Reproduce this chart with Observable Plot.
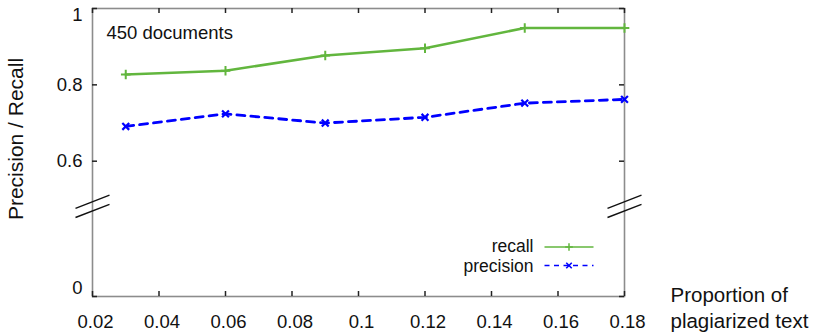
<!DOCTYPE html>
<html>
<head>
<meta charset="utf-8">
<script src="https://cdn.jsdelivr.net/npm/d3@7"></script>
<script src="https://cdn.jsdelivr.net/npm/@observablehq/plot@0.6"></script>
<style>
  body { margin: 0; background: #fff; }
  #chart svg { font-family: "Liberation Sans", Arial, Helvetica, sans-serif; color: #111; }
</style>
</head>
<body>
<div id="chart"></div>
<script>
// ---- data ----
const proportion = [0.03, 0.06, 0.09, 0.12, 0.15, 0.18];
const recall     = [0.827, 0.837, 0.877, 0.896, 0.949, 0.949];
const precision  = [0.691, 0.724, 0.700, 0.715, 0.752, 0.762];
const xTicks = [0.02, 0.04, 0.06, 0.08, 0.1, 0.12, 0.14, 0.16, 0.18];
const yTicks = [0, 0.6, 0.8, 1];
const yBreak = 0.4;
const seriesNames = ["recall", "precision"];
const annotation = "450 documents";
const yLabel = "Precision / Recall";
const xLabel = "Proportion of\nplagiarized text";

// ---- layout ----
const W = 817, H = 334;
const mL = 92, mR = 193, mT = 8, mB = 38;
const FW = W - mL - mR, FH = H - mT - mB;
const green = "#62b63e", blue = "#0000ff";

const rows = proportion.map((p, i) => ({p, recall: recall[i], precision: precision[i]}));

const breakSymbol = {
  draw(ctx) {
    ctx.moveTo(-17, 2); ctx.lineTo(17, -11.2);
    ctx.moveTo(-17, 11.2); ctx.lineTo(17, -2);
  }
};
const legendLine = { draw(ctx) { ctx.moveTo(-24.5, 0); ctx.lineTo(24.5, 0); } };

const fs = 18.5;
const lfs = 17.5;
const legY = [-50, -30.5];

const chart = Plot.plot({
  width: W, height: H,
  marginLeft: mL, marginRight: mR, marginTop: mT, marginBottom: mB,
  x: {domain: [0.02, 0.18]},
  y: {type: "linear", domain: [0, 0.6, 1], range: [H - mB, 160.7, mT]},
  marks: [
    Plot.frame({stroke: "#8c8c8c", strokeWidth: 1.6}),
    // inward ticks on all four sides
    Plot.tickX(xTicks, {x: d => d, insetTop: FH - 5, stroke: "#222", strokeWidth: 1.5}),
    Plot.tickX(xTicks, {x: d => d, insetBottom: FH - 5, stroke: "#222", strokeWidth: 1.5}),
    Plot.tickY(yTicks, {y: d => d, insetRight: FW - 5, stroke: "#222", strokeWidth: 1.5}),
    Plot.tickY(yTicks, {y: d => d, insetLeft: FW - 5, stroke: "#222", strokeWidth: 1.5}),
    // tick labels
    Plot.axisX(xTicks, {tickSize: 0, tickPadding: 18, fontSize: fs, dx: 3, label: null, tickFormat: d => String(d)}),
    Plot.axisY(yTicks.filter(d => d > 0 && d < 1), {tickSize: 0, tickPadding: 10, fontSize: fs, label: null, tickFormat: d => String(d)}),
    Plot.axisY([1], {tickSize: 0, tickPadding: 10, fontSize: fs, label: null, dy: 6.5, tickFormat: d => String(d)}),
    Plot.axisY([0], {tickSize: 0, tickPadding: 10, fontSize: fs, label: null, dy: -8.5, tickFormat: d => String(d)}),
    // axis break marks
    Plot.dot([xTicks[0], xTicks[xTicks.length - 1]], {x: d => d, y: () => yBreak, symbol: breakSymbol, r: 5, fill: "none", stroke: "#111", strokeWidth: 1.4}),
    // series
    Plot.line(rows, {x: "p", y: "recall", stroke: green, strokeWidth: 2.6}),
    Plot.dot(rows, {x: "p", y: "recall", symbol: "plus", r: 3.2, stroke: green, strokeWidth: 2}),
    Plot.line(rows, {x: "p", y: "precision", stroke: blue, strokeWidth: 2.8, strokeDasharray: "8,6"}),
    Plot.dot(rows, {x: "p", y: "precision", symbol: "times", r: 3.2, stroke: blue, strokeWidth: 2.2}),
    // annotation
    Plot.text([annotation], {text: d => d, frameAnchor: "top-left", dx: 14, dy: 25, textAnchor: "start", lineAnchor: "middle", fontSize: fs}),
    // axis titles
    Plot.text([yLabel], {text: d => d, frameAnchor: "left", dx: -76.5, dy: -13.5, rotate: -90, textAnchor: "middle", lineAnchor: "middle", fontSize: 21}),
    Plot.text([xLabel], {text: d => d, frameAnchor: "bottom-right", dx: 46, dy: -13, textAnchor: "start", lineAnchor: "top", lineHeight: 1.27, fontSize: 20.5}),
    // legend
    Plot.text([seriesNames[0]], {text: d => d, frameAnchor: "bottom-right", dx: -91, dy: legY[0], textAnchor: "end", lineAnchor: "middle", fontSize: lfs}),
    Plot.text([seriesNames[1]], {text: d => d, frameAnchor: "bottom-right", dx: -91, dy: legY[1], textAnchor: "end", lineAnchor: "middle", fontSize: lfs}),
    Plot.dot([seriesNames[0]], {frameAnchor: "bottom-right", dx: -55.5, dy: legY[0] + 0.5, symbol: legendLine, r: 5, fill: "none", stroke: green, strokeWidth: 1.5}),
    Plot.dot([seriesNames[0]], {frameAnchor: "bottom-right", dx: -55.5, dy: legY[0] + 0.5, symbol: "plus", r: 2.6, stroke: green, strokeWidth: 1.5}),
    Plot.dot([seriesNames[1]], {frameAnchor: "bottom-right", dx: -55.5, dy: legY[1] - 0.5, symbol: legendLine, r: 5, fill: "none", stroke: blue, strokeWidth: 1.5, strokeDasharray: "5,4.5"}),
    Plot.dot([seriesNames[1]], {frameAnchor: "bottom-right", dx: -55.5, dy: legY[1] - 0.5, symbol: "times", r: 2.6, stroke: blue, strokeWidth: 1.6})
  ]
});
document.getElementById("chart").appendChild(chart);
</script>
</body>
</html>
